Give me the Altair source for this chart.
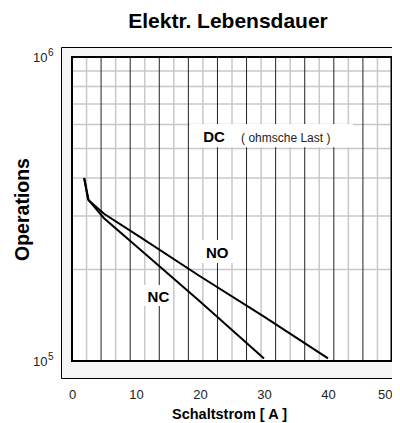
import altair as alt
import pandas as pd

FONT = "Liberation Sans"

# ---- data ----
nc_x = [1.9, 2.5, 5.0, 10.6, 20.0, 30.0]
nc_y = [4.0e5, 3.4e5, 2.95e5, 2.33e5, 1.57e5, 1.02e5]
no_x = [1.9, 2.6, 5.0, 10.6, 20.0, 30.0, 40.0]
no_y = [4.0e5, 3.38e5, 3.05e5, 2.56e5, 1.9e5, 1.4e5, 1.02e5]

x_ticks = [0, 10, 20, 30, 40, 50]
y_ticks = [1e5, 1e6]
y_exponents = ["5", "6"]

# chart grid: 11 major and 22 minor columns, log decade rows
grid_major = [i * 50 / 11 for i in range(1, 11)]
grid_minor = [(i + 0.5) * 50 / 11 for i in range(11)]
grid_ticks = [i * 50 / 11 for i in range(12)]
grid_rows = [k * 1e5 for k in range(2, 10)]

# annotations
bold_labels = ["DC", "NO", "NC"]
bold_x = [22.2, 22.7, 13.5]
bold_y = [5.45e5, 2.27e5, 1.624e5]
note_label = ["( ohmsche Last )"]
note_x = [33.4]
note_y = [5.43e5]
box_x1 = [18.4, 19.7, 11.25]
box_x2 = [43.9, 26.7, 15.7]
box_y1 = [5.05e5, 2.10e5, 1.517e5]
box_y2 = [6.02e5, 2.50e5, 1.778e5]

W, H = 320, 304

xscale = alt.Scale(domain=[0, 50], nice=False, zero=False)
yscale = alt.Scale(type="log", domain=[1e5, 1e6], nice=False)

xaxis = alt.Axis(values=x_ticks, title="Schaltstrom [ A ]", grid=False, ticks=False,
                 domain=False, labelPadding=27, labelFontSize=13, labelColor="#222",
                 labelFont=FONT, format="d", labelFlush=False,
                 labelAlign={"condition": {"test": "datum.value >= 50", "value": "right"},
                             "value": "center"},
                 titleFont=FONT, titleFontSize=14.5,
                 titleFontWeight="bold", titleX=157, titleY=57.7,
                 titleBaseline="alphabetic", titleAlign="center", titleColor="black")
yaxis = alt.Axis(values=y_ticks, title="Operations", grid=False, ticks=False,
                 domain=False, labelPadding=25, labelFontSize=13, labelColor="#222",
                 labelFont=FONT, labelBaseline="middle", labelExpr="'10'",
                 titleFont=FONT, titleFontSize=19.5, titleFontWeight="bold",
                 titleX=-50, titleY=152, titleAngle=270, titleBaseline="middle",
                 titleAlign="center", titleColor="black")


def X(f):
    return alt.X(f"{f}:Q", scale=xscale, axis=xaxis)


def Y(f):
    return alt.Y(f"{f}:Q", scale=yscale, axis=yaxis)


curves = pd.DataFrame({
    "x": nc_x + no_x,
    "y": nc_y + no_y,
    "s": ["NC"] * len(nc_x) + ["NO"] * len(no_x),
})

hgrid = alt.Chart(pd.DataFrame({"y": grid_rows})).mark_rule(
    color="#c8c8c8", strokeWidth=1.5).encode(y=Y("y"), x=alt.value(0), x2=alt.value(W))
vminor = alt.Chart(pd.DataFrame({"x": grid_minor})).mark_rule(
    color="#c8c8c8", strokeWidth=1.5).encode(x=X("x"), y=alt.value(0), y2=alt.value(H))
vmajor = alt.Chart(pd.DataFrame({"x": grid_major})).mark_rule(
    color="#222", strokeWidth=1).encode(x=X("x"), y=alt.value(0), y2=alt.value(H))
ticks = alt.Chart(pd.DataFrame({"x": grid_ticks})).mark_rule(
    color="black", strokeWidth=1).encode(x=X("x"), y=alt.value(H), y2=alt.value(H + 4))

FRAME = "#f6f6f6"
base = alt.Chart(pd.DataFrame({"a": [0]}))
strip_top = base.mark_rect(color=FRAME).encode(
    x=alt.value(-11), x2=alt.value(340), y=alt.value(-10), y2=alt.value(0))
strip_bot = base.mark_rect(color=FRAME).encode(
    x=alt.value(-11), x2=alt.value(340), y=alt.value(H), y2=alt.value(H + 18))
strip_left = base.mark_rect(color=FRAME).encode(
    x=alt.value(-11), x2=alt.value(0), y=alt.value(0), y2=alt.value(H))
outer = base.mark_rect(fillOpacity=0, stroke="black", strokeWidth=1).encode(
    x=alt.value(-10.5), x2=alt.value(345), y=alt.value(-9.5), y2=alt.value(H + 17.5))
inner = base.mark_rect(fillOpacity=0, stroke="black", strokeWidth=2).encode(
    x=alt.value(0), x2=alt.value(W - 0.5), y=alt.value(0), y2=alt.value(H))

exps = alt.Chart(pd.DataFrame({"y": y_ticks, "t": y_exponents})).mark_text(
    font=FONT, fontSize=10, color="#222", align="left", baseline="middle", dy=-4
).encode(y=Y("y"), x=alt.value(-24), text="t:N")

boxes = alt.Chart(pd.DataFrame({"x1": box_x1, "x2": box_x2, "y1": box_y1, "y2": box_y2})
                  ).mark_rect(color="white").encode(
    x=X("x1"), x2="x2", y=Y("y1"), y2="y2")

lines = alt.Chart(curves).mark_line(color="black", strokeWidth=2).encode(
    x=X("x"), y=Y("y"), detail="s:N")

btext = alt.Chart(pd.DataFrame({"x": bold_x, "y": bold_y, "t": bold_labels})).mark_text(
    font=FONT, fontWeight="bold", fontSize=15, color="black", align="center",
    baseline="middle").encode(x=X("x"), y=Y("y"), text="t:N")
ntext = alt.Chart(pd.DataFrame({"x": note_x, "y": note_y, "t": note_label})).mark_text(
    font=FONT, fontSize=12, color="#222", align="center",
    baseline="middle").encode(x=X("x"), y=Y("y"), text="t:N")

chart = alt.layer(
    hgrid, vminor, vmajor, ticks,
    strip_top, strip_bot, strip_left, outer, exps,
    boxes, lines, btext, ntext, inner,
).properties(
    width=W, height=H,
    autosize=alt.AutoSizeParams(type="none"),
    padding={"left": 64, "top": 49, "right": 0, "bottom": 62},
    title=alt.TitleParams("Elektr. Lebensdauer", font=FONT, fontSize=21,
                          fontWeight="bold", color="black", anchor="middle",
                          offset=15, dx=-4),
).configure_view(stroke=None, fill="white")

chart.save("out.html", embed_options={"renderer": "svg", "actions": False})
